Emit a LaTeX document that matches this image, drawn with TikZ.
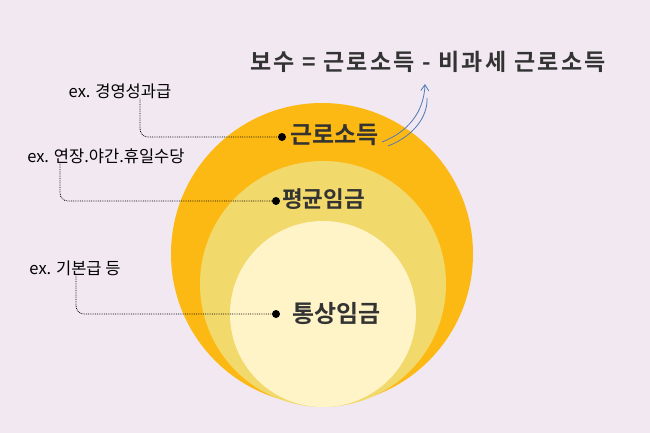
\documentclass[tikz,border=0pt]{standalone}
\usepackage{fontspec}
\newfontfamily\kr{Noto Sans CJK KR}
\newfontfamily\krb{Noto Sans CJK KR Bold}
\usetikzlibrary{arrows.meta}
\definecolor{bgpurple}{HTML}{F1E8F1}
\definecolor{outerorange}{HTML}{FDB913}
\definecolor{midyellow}{HTML}{F2D96B}
\definecolor{innercream}{HTML}{FFF4C8}
\definecolor{arrowblue}{HTML}{4F79B7}
\definecolor{inkgray}{HTML}{333333}
\tikzset{
  big/.style={font=\krb\fontsize{24}{26}\selectfont, text=inkgray, inner sep=0pt},
  ex/.style={font=\kr\fontsize{16.5}{18}\selectfont, inner sep=0pt},
  leader/.style={densely dotted, thick, rounded corners=8pt},
  dot/.style={circle, fill=black, inner sep=0pt, minimum size=8pt}
}
\begin{document}
\begin{tikzpicture}[x=1pt,y=-1pt]
                \fill[bgpurple] (0,0) rectangle (650,433);
                \fill[outerorange] (322,254) circle (151);
                \fill[midyellow] (323,284) circle (123);
                \fill[innercream] (323,314) circle (93);
                % title
                \node[big, font=\krb\fontsize{23}{26}\selectfont\addfontfeature{LetterSpace=10}, anchor=west] (title) at (250,62) {보수 = 근로소득 - 비과세 근로소득};
                % circle labels
                \node[dot] (d1) at (282,137) {};
                \node[big, anchor=west] (income) at (290,135) {근로소득};
                \node[dot] (d2) at (276,201) {};
                \node[big, font=\krb\fontsize{22.5}{24}\selectfont, anchor=west] (avg) at (282,199) {평균임금};
                \node[dot] (d3) at (276,314) {};
                \node[big, anchor=west] (ord) at (292,314) {통상임금};
                % examples
                \node[ex] (e1) at (120,91) {ex. 경영성과급};
                \node[ex] (e2) at (106,156) {ex. 연장.야간.휴일수당};
                \node[ex] (e3) at (75,268) {ex. 기본급 등};
                \draw[leader] (e1.south -| 140,0) -- (140,137) -- (d1);
                \draw[leader] (e2.south -| 60,0) -- (60,201) -- (d2);
                \draw[leader] (e3.south -| 76,0) -- (76,314) -- (d3);
                % arrow
                \coordinate (tip) at (425,84);
                \draw[arrowblue, thick, -{Straight Barb[length=6pt,width=8pt]}] (382,142) .. controls (408,132) and (424,112) .. (tip);
                \draw[arrowblue, thick] (388,146) .. controls (414,136) and (428,116) .. (427,98);
\end{tikzpicture}
\end{document}
